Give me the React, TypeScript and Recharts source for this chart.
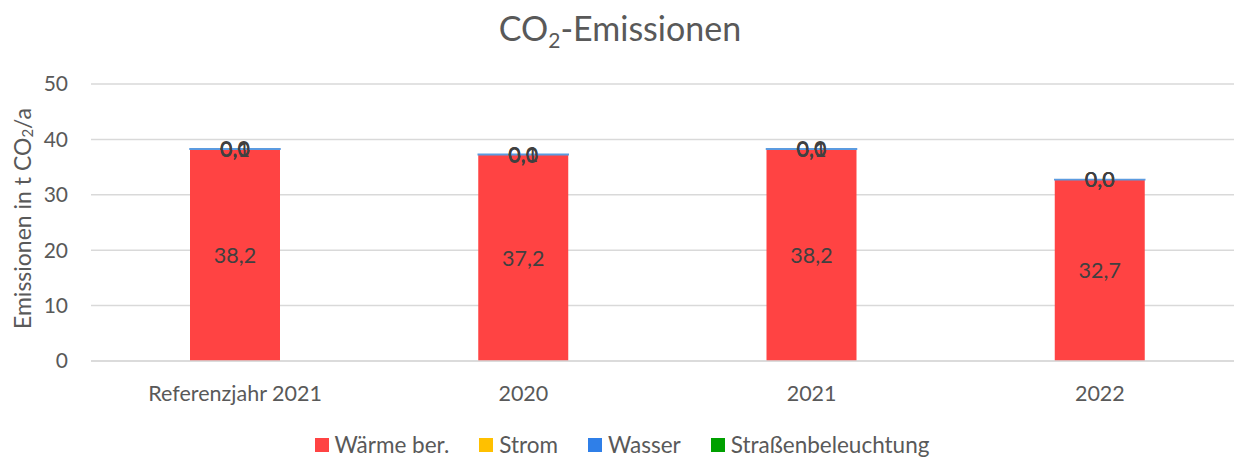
import { Bar, BarChart, CartesianGrid, LabelList, Legend, XAxis, YAxis } from "recharts";

const KATEGORIEN = ["Referenzjahr 2021", "2020", "2021", "2022"];
const WAERME = [38.2, 37.2, 38.2, 32.7];
// Strom und Straßenbeleuchtung: im Bild nur als "0,0" beschriftet
const STROM = [0.01, 0.01, 0.01, 0.01];
const WASSER = [0.1, 0.1, 0.1, 0.04];
const STRASSE = [0.01, 0.01, 0.01, 0.01];
const Y_TICKS = [0, 10, 20, 30, 40, 50];

const SERIEN = [
  { key: "waerme", name: "Wärme ber.", werte: WAERME, farbe: "#ff4343" },
  { key: "strom", name: "Strom", werte: STROM, farbe: "#ffc000" },
  { key: "wasser", name: "Wasser", werte: WASSER, farbe: "#2f7fe8" },
  { key: "strasse", name: "Straßenbeleuchtung", werte: STRASSE, farbe: "#00a000" },
];

const FONT = "Lato, 'Open Sans', sans-serif";
const TEXT = "#595959";

const daten = KATEGORIEN.map((kategorie, i) => {
  const zeile: Record<string, string | number> = { kategorie };
  SERIEN.forEach((s) => (zeile[s.key] = s.werte[i]));
  return zeile;
});

const formatZahl = (v: unknown) => Number(v).toFixed(1).replace(".", ",");

function AchsenTitel({ viewBox }: any) {
  const cx = 22;
  const cy = viewBox.y + viewBox.height / 2 - 4;
  return (
    <text
      x={cx}
      y={cy}
      transform={`rotate(-90 ${cx} ${cy})`}
      textAnchor="middle"
      dominantBaseline="central"
      fill={TEXT}
      fontSize={23}
      fontFamily={FONT}
    >
      Emissionen in t CO
      <tspan fontSize={15} dy={5}>2</tspan>
      <tspan dy={-5}>/a</tspan>
    </text>
  );
}

function LegendeInhalt() {
  return (
    <div
      style={{
        display: "flex",
        justifyContent: "center",
        gap: 30,
        marginTop: 20,
        fontFamily: FONT,
        fontSize: 22.5,
        color: TEXT,
      }}
    >
      {SERIEN.map((s) => (
        <div key={s.key} style={{ display: "flex", alignItems: "center", gap: 6 }}>
          <span style={{ width: 14, height: 14, background: s.farbe, display: "inline-block" }} />
          <span>{s.name}</span>
        </div>
      ))}
    </div>
  );
}

export default function App() {
  return (
    <div style={{ position: "absolute", left: 0, top: 0, width: 1234, height: 458, overflow: "hidden", background: "#fff" }}>
      <div
        style={{
          position: "absolute",
          top: 7,
          left: 0,
          width: 1240,
          textAlign: "center",
          fontFamily: FONT,
          fontSize: 34,
          color: TEXT,
        }}
      >
        CO<sub style={{ fontSize: 21, verticalAlign: "-7px" }}>2</sub>-Emissionen
      </div>
      <BarChart width={1244} height={458} data={daten} margin={{ top: 84, right: 0, left: 0, bottom: 0 }} barSize={90}>
        <CartesianGrid vertical={false} stroke="#d9d9d9" strokeWidth={1.5} />
        <XAxis
          dataKey="kategorie"
          axisLine={{ stroke: "#d9d9d9", strokeWidth: 1.5 }}
          tickLine={false}
          tickMargin={19}
          height={50}
          tick={{ fill: TEXT, fontSize: 21.5, fontFamily: FONT }}
        />
        <YAxis
          width={91}
          domain={[0, 50]}
          ticks={Y_TICKS}
          axisLine={false}
          tickLine={false}
          tickMargin={17}
          tick={{ fill: TEXT, fontSize: 21, fontFamily: FONT }}
          label={<AchsenTitel />}
        />
        <Legend verticalAlign="bottom" height={47} content={<LegendeInhalt />} />
        {SERIEN.map((s) => (
          <Bar
            key={s.key}
            dataKey={s.key}
            name={s.name}
            stackId="a"
            fill={s.farbe}
            stroke={s.key === "wasser" ? "#5b9be0" : undefined}
            strokeWidth={s.key === "wasser" ? 1.5 : 0}
            isAnimationActive={false}
          >
            <LabelList
              dataKey={s.key}
              position="center"
              formatter={formatZahl}
              fill="#404040"
              fontSize={21.5}
              fontFamily={FONT}
            />
          </Bar>
        ))}
      </BarChart>
    </div>
  );
}
